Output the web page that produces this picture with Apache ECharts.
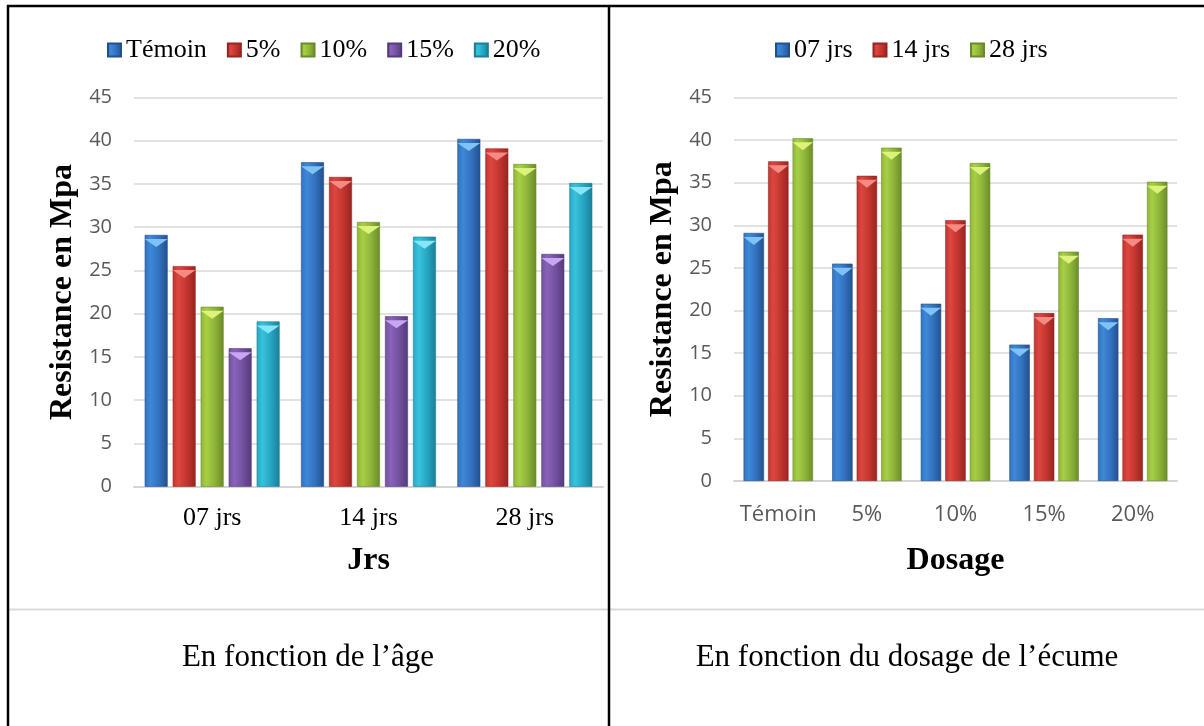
<!DOCTYPE html>
<html>
<head>
<meta charset="utf-8">
<script src="https://cdn.jsdelivr.net/npm/echarts@6/dist/echarts.min.js"></script>
<style>
  html, body { margin: 0; padding: 0; background: #fff; }
  #c { width: 1204px; height: 726px; }
</style>
</head>
<body>
<div id="c"></div>
<script>
// Curing ages and foam dosages
const ages = ['07 jrs', '14 jrs', '28 jrs'];
const dosages = ['Témoin', '5%', '10%', '15%', '20%'];

// Compressive strength (MPa) for each dosage at 7, 14 and 28 days
const temoin = [29.1, 37.5, 40.2];
const dose5  = [25.5, 35.8, 39.1];
const dose10 = [20.8, 30.6, 37.3];
const dose15 = [16.0, 19.7, 26.9];
const dose20 = [19.1, 28.9, 35.1];

// Value axis ticks
const yMin = 0, yMax = 45, yStep = 5;

const dosageRows = [temoin, dose5, dose10, dose15, dose20];
// same measurements regrouped by age (one row per age, one value per dosage)
const ageRows = ages.map((_, i) => dosageRows.map(r => r[i]));

const SERIF = '"Liberation Serif", "Times New Roman", serif';
const SANS = '"Open Sans", "Noto Sans", sans-serif';

const palettes = [
  { l: '#3d88d8', m: '#3372c0', d: '#23508c', cap: '#7fc3f6' }, // blue
  { l: '#dc4640', m: '#c5352f', d: '#952521', cap: '#f58a84' }, // red
  { l: '#a6cf45', m: '#8fb63a', d: '#6a8a2a', cap: '#dcf27a' }, // green
  { l: '#8a62ba', m: '#7451a1', d: '#553a7a', cap: '#c9a6f2' }, // purple
  { l: '#38c2dc', m: '#27a7c4', d: '#1b7f97', cap: '#86e6f8' }  // cyan
];

function faceGradient(p) {
  return new echarts.graphic.LinearGradient(0, 0, 1, 0, [
    { offset: 0, color: p.m },
    { offset: 0.25, color: p.l },
    { offset: 0.6, color: p.m },
    { offset: 1, color: p.d }
  ]);
}

function barSeries(name, data, idx, p, gap, catGap) {
  return [{
    type: 'bar', name: name, data: data,
    xAxisIndex: idx, yAxisIndex: idx,
    barGap: gap, barCategoryGap: catGap,
    itemStyle: { color: faceGradient(p), borderColor: p.d, borderWidth: 0.6 },
    z: 2
  }];
}

function capSeries(name, data, idx, p, gap, catGap) {
  return [{
    type: 'pictorialBar', name: name, data: data,
    xAxisIndex: idx, yAxisIndex: idx,
    barGap: gap, barCategoryGap: catGap,
    symbol: 'path://M0,0L20,0L10,8Z',
    symbolSize: ['100%', 8],
    symbolPosition: 'end',
    symbolOffset: [0, '50%'],
    itemStyle: { color: p.cap },
    silent: true,
    z: 3
  }];
}

const series = [];
// left panel: one series per dosage, grouped by age
dosages.forEach((n, i) => series.push(...barSeries(n, dosageRows[i], 0, palettes[i], '22%', '13.7%')));
// right panel: one series per age, grouped by dosage
ages.forEach((n, i) => series.push(...barSeries(n, ageRows[i], 1, palettes[i], '20%', '21.6%')));
dosages.forEach((n, i) => series.push(...capSeries(n, dosageRows[i], 0, palettes[i], '22%', '13.7%')));
ages.forEach((n, i) => series.push(...capSeries(n, ageRows[i], 1, palettes[i], '20%', '21.6%')));

const nameStyle = { fontFamily: SERIF, fontWeight: 'bold', fontSize: 32, color: '#000' };

function valueAxis(idx) {
  return {
    type: 'value', gridIndex: idx, min: yMin, max: yMax, interval: yStep,
    name: 'Resistance en Mpa', nameLocation: 'middle', nameGap: 55,
    nameTextStyle: nameStyle,
    axisLine: { show: false }, axisTick: { show: false },
    axisLabel: { color: '#595959', fontFamily: SANS, fontSize: 20, margin: 22 },
    splitLine: { lineStyle: { color: '#d9d9d9', width: 1.5 } }
  };
}

const legendText = { fontFamily: SERIF, fontSize: 26, color: '#000' };

const option = {
  animation: false,
  backgroundColor: '#fff',
  grid: [
    { left: 134, top: 97.4, width: 469, height: 389.3 },
    { left: 734, top: 97.4, width: 443, height: 383.6 }
  ],
  legend: [
    { data: dosages, left: 102, top: 32, icon: 'rect', itemWidth: 13, itemHeight: 13,
      itemGap: 20, textStyle: legendText, selectedMode: false },
    { data: ages, left: 770, top: 32, icon: 'rect', itemWidth: 13, itemHeight: 13,
      itemGap: 20, textStyle: legendText, selectedMode: false }
  ],
  xAxis: [
    { type: 'category', gridIndex: 0, data: ages,
      name: 'Jrs', nameLocation: 'middle', nameGap: 58, nameTextStyle: nameStyle,
      axisLine: { lineStyle: { color: '#d4d4d4', width: 2 } }, axisTick: { show: false },
      axisLabel: { color: '#000', fontFamily: SERIF, fontSize: 26, margin: 18, interval: 0 } },
    { type: 'category', gridIndex: 1, data: dosages,
      name: 'Dosage', nameLocation: 'middle', nameGap: 64, nameTextStyle: nameStyle,
      axisLine: { lineStyle: { color: '#d4d4d4', width: 2 } }, axisTick: { show: false },
      axisLabel: { color: '#595959', fontFamily: SANS, fontSize: 22, margin: 23, interval: 0 } }
  ],
  yAxis: [valueAxis(0), valueAxis(1)],
  series: series,
  graphic: [
    { type: 'line', shape: { x1: 7, y1: 6, x2: 1204, y2: 6 }, style: { stroke: '#000', lineWidth: 2.5 } },
    { type: 'line', shape: { x1: 8, y1: 5, x2: 8, y2: 726 }, style: { stroke: '#000', lineWidth: 2.5 } },
    { type: 'line', shape: { x1: 609, y1: 5, x2: 609, y2: 726 }, style: { stroke: '#000', lineWidth: 2.5 } },
    { type: 'line', shape: { x1: 9, y1: 609.5, x2: 1204, y2: 609.5 }, style: { stroke: '#d9d9d9', lineWidth: 2 }, z: -1 },
    { type: 'text', x: 308, y: 658,
      style: { text: 'En fonction de l\u2019âge', font: '31px ' + SERIF, fill: '#000',
               textAlign: 'center', textVerticalAlign: 'middle' } },
    { type: 'text', x: 907, y: 658,
      style: { text: 'En fonction du dosage de l\u2019écume', font: '31px ' + SERIF, fill: '#000',
               textAlign: 'center', textVerticalAlign: 'middle' } }
  ]
};

echarts.init(document.getElementById('c'), null, { renderer: 'canvas' }).setOption(option);
</script>
</body>
</html>
